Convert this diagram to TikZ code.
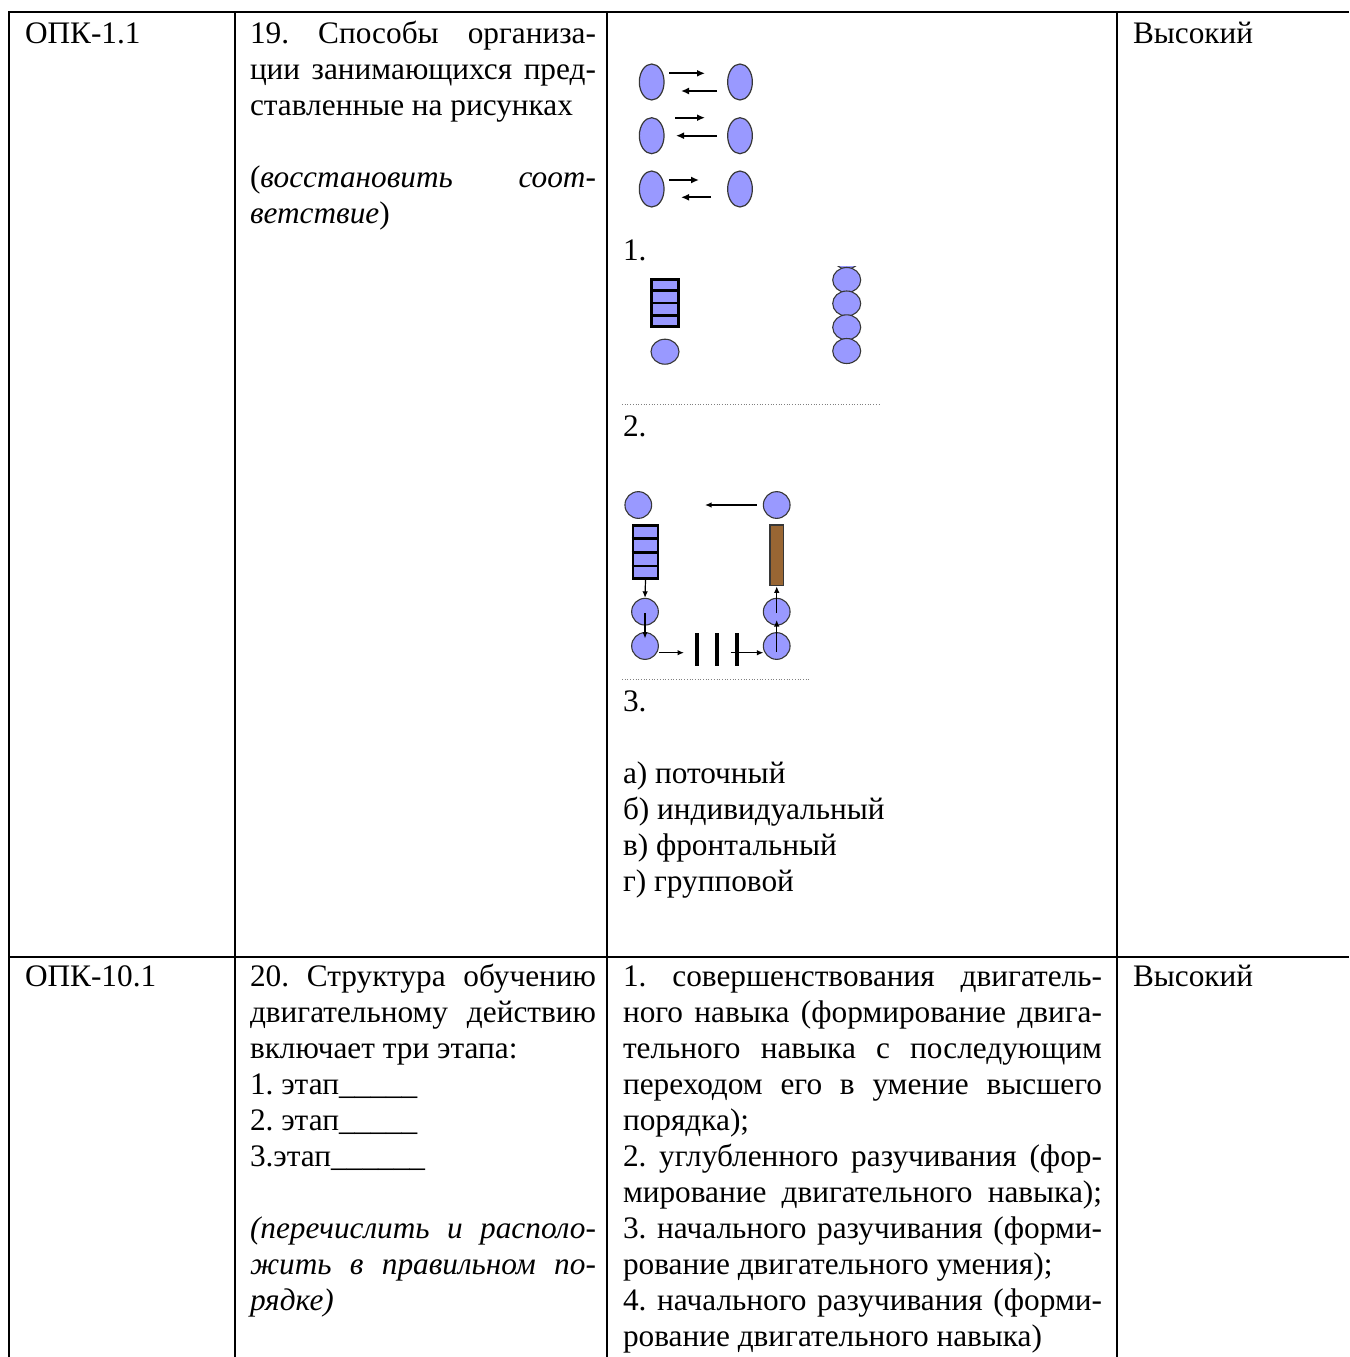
\documentclass[tikz,border=0pt]{standalone}
\usepackage{fontspec}
\setmainfont{Liberation Serif}
\usetikzlibrary{shapes.geometric,arrows.meta,calc}
\definecolor{peri}{RGB}{153,153,255}
\definecolor{rim}{RGB}{55,55,55}
\definecolor{wood}{RGB}{153,102,51}
\frenchspacing
\begin{document}
\begin{tikzpicture}[x=1pt,y=-1pt,
 txt/.style={anchor=base west,inner sep=0pt,outer sep=0pt,font=\fontsize{31.3pt}{36pt}\selectfont\frenchspacing},
 rule/.style={line width=2pt},
 person/.style={ellipse,draw=rim,fill=peri,line width=1.2pt,inner sep=0pt,minimum width=24.7pt,minimum height=36pt},
 disc/.style={ellipse,draw=rim,fill=peri,line width=1.1pt,inner sep=0pt,minimum width=28pt,minimum height=25pt},
 ball/.style={circle,draw=rim,fill=peri,line width=1.1pt,inner sep=0pt,minimum size=26.7pt},
 ladder/.style={rectangle,draw=black,fill=peri,line width=2.6pt,inner sep=0pt},
 plank/.style={rectangle,draw=rim,fill=wood,line width=1.3pt,inner sep=0pt,minimum width=13.3pt,minimum height=60.7pt},
 bar/.style={rectangle,fill=black,inner sep=0pt,minimum width=4pt,minimum height=33.3pt},
 bigarr/.style={line width=1.8pt,-{Latex[length=8pt,width=7pt]}},
 smallarr/.style={line width=1.2pt,-{Latex[length=6.5pt,width=5.5pt]}},
 sep/.style={gray,line width=0.7pt,dotted}
]
\useasboundingbox (0,0) rectangle (1349,1357);
\clip (0,0) rectangle (1349,1357);
\fill[white] (0,0) rectangle (1349,1357);

% table rules
\draw[rule] (8,12) -- (1349,12);
\draw[rule] (8,956.7) -- (1349,956.7);
\foreach \x in {9,235,607,1117} \draw[rule] (\x,11) -- (\x,1357);

% ---------- row 1 ----------
\node[txt] (r1c1) at (25,43) {ОПК-1.1};
\node[txt] (r1c2a) at (250,43) {\makebox[346pt][s]{19. Способы организа-}};
\node[txt] (r1c2b) at (250,79) {\makebox[346pt][s]{ции занимающихся пред-}};
\node[txt] (r1c2c) at (250,115) {ставленные на рисунках};
\node[txt] (r1c2d) at (250,187) {\makebox[346pt][s]{(\textit{восстановить} \textit{соот-}}};
\node[txt] (r1c2e) at (250,223) {\textit{ветствие})};
\node[txt] (r1c4) at (1133,43) {Высокий};

% figure 1
\node[person] (L1) at (651.7,82) {};
\node[person] (R1) at (740,82) {};
\node[person] (L2) at (651.7,135.7) {};
\node[person] (R2) at (740,135.7) {};
\node[person] (L3) at (651.7,189) {};
\node[person] (R3) at (740,189) {};
\coordinate (a1s) at (669,73.3);  \coordinate (a1e) at (705,73.3);
\coordinate (b1s) at (717,91);    \coordinate (b1e) at (681,91);
\coordinate (a2s) at (675,117.7); \coordinate (a2e) at (705,117.7);
\coordinate (b2s) at (717,135.7); \coordinate (b2e) at (676,135.7);
\coordinate (a3s) at (669,180);   \coordinate (a3e) at (699,180);
\coordinate (b3s) at (711,197.3); \coordinate (b3e) at (681,197.3);
\draw[bigarr] (a1s) -- (a1e);
\draw[bigarr] (b1s) -- (b1e);
\draw[bigarr] (a2s) -- (a2e);
\draw[bigarr] (b2s) -- (b2e);
\draw[bigarr] (a3s) -- (a3e);
\draw[bigarr] (b3s) -- (b3e);
\node[txt] (lab1) at (623,260) {1.};

% figure 2
\node[ladder,minimum width=27.4pt,minimum height=47.4pt] (K2) at (665,303) {};
\foreach \f in {0.25,0.5,0.75}
  \draw[line width=2.6pt] ($(K2.north west)!\f!(K2.south west)$) -- ($(K2.north east)!\f!(K2.south east)$);
\node[disc] (P2) at (665,351.7) {};
\begin{scope}
\clip (800,266) rectangle (900,400);
\node[disc] (C0) at (846.7,256.5) {};
\node[disc] (C1) at (846.7,280) {};
\node[disc] (C2) at (846.7,303.5) {};
\node[disc] (C3) at (846.7,327.3) {};
\node[disc] (C4) at (846.7,351) {};
\end{scope}
\draw[sep] (622,404.7) -- (880,404.7);
\node[txt] (lab2) at (623,436) {2.};

% figure 3
\node[ball] (TL) at (638.3,505) {};
\node[ball] (TR) at (776.7,505) {};
\coordinate (t1) at (756.7,505); \coordinate (t2) at (705,505);
\draw[smallarr] (t1) -- (t2);
\node[ladder,minimum width=25pt,minimum height=53pt] (K3) at (645.5,552.2) {};
\foreach \f in {0.25,0.5,0.75}
  \draw[line width=2.6pt] ($(K3.north west)!\f!(K3.south west)$) -- ($(K3.north east)!\f!(K3.south east)$);
\node[plank] (BR) at (776.7,555.3) {};
\node[ball] (LM) at (645,611.7) {};
\node[ball] (LB) at (645,646) {};
\node[ball] (RM) at (776.7,611.7) {};
\node[ball] (RB) at (776.7,646) {};
\coordinate (d1) at (645,613); \coordinate (d2) at (645,638.5);
\coordinate (u1) at (776.7,652); \coordinate (u2) at (776.7,620);
\coordinate (u3) at (776.7,613);
\draw[smallarr] (K3.south) -- (LM.north);
\draw[smallarr] (d1) -- (d2);
\draw[smallarr] (u1) -- (u2);
\draw[smallarr] (u3) -- (BR.south);
\node[bar] (B1) at (697.3,649.3) {};
\node[bar] (B2) at (717.3,649.3) {};
\node[bar] (B3) at (737.3,649.3) {};
\coordinate (h1) at (659.3,652.7); \coordinate (h2) at (684,652.7);
\coordinate (h3) at (730.7,652.7); \coordinate (h4) at (763.4,652.7);
\draw[smallarr] (h1) -- (h2);
\draw[smallarr] (h3) -- (h4);
\draw[sep] (622,679.3) -- (809.3,679.3);
\node[txt] (lab3) at (623,711) {3.};

\node[txt] (oa) at (623,783) {а) поточный};
\node[txt] (ob) at (623,819) {б) индивидуальный};
\node[txt] (oc) at (623,855) {в) фронтальный};
\node[txt] (od) at (623,891) {г) групповой};

% ---------- row 2 ----------
\node[txt] (r2c1) at (25,986) {ОПК-10.1};
\node[txt] (r2c2a) at (250,986) {\makebox[346pt][s]{20. Структура обучению}};
\node[txt] (r2c2b) at (250,1022) {\makebox[346pt][s]{двигательному действию}};
\node[txt] (r2c2c) at (250,1058) {включает три этапа:};
\node[txt] (r2c2d) at (250,1094) {1. этап\_\_\_\_\_};
\node[txt] (r2c2e) at (250,1130) {2. этап\_\_\_\_\_};
\node[txt] (r2c2f) at (250,1166) {3.этап\_\_\_\_\_\_};
\node[txt] (r2c2g) at (250,1238) {\makebox[346pt][s]{\itshape (перечислить и располо-}};
\node[txt] (r2c2h) at (250,1274) {\makebox[346pt][s]{\itshape жить в правильном по-}};
\node[txt] (r2c2i) at (250,1310) {\itshape рядке)};

\node[txt] (r2c3a) at (623,986) {\makebox[479pt][s]{1. совершенствования двигатель-}};
\node[txt] (r2c3b) at (623,1022) {\makebox[479pt][s]{ного навыка (формирование двига-}};
\node[txt] (r2c3c) at (623,1058) {\makebox[479pt][s]{тельного навыка с последующим}};
\node[txt] (r2c3d) at (623,1094) {\makebox[479pt][s]{переходом его в умение высшего}};
\node[txt] (r2c3e) at (623,1130) {порядка);};
\node[txt] (r2c3f) at (623,1166) {\makebox[479pt][s]{2. углубленного разучивания (фор-}};
\node[txt] (r2c3g) at (623,1202) {\makebox[479pt][s]{мирование двигательного навыка);}};
\node[txt] (r2c3h) at (623,1238) {\makebox[479pt][s]{3. начального разучивания (форми-}};
\node[txt] (r2c3i) at (623,1274) {рование двигательного умения);};
\node[txt] (r2c3j) at (623,1310) {\makebox[479pt][s]{4. начального разучивания (форми-}};
\node[txt] (r2c3k) at (623,1346) {рование двигательного навыка)};
\node[txt] (r2c4) at (1133,986) {Высокий};
\end{tikzpicture}
\end{document}
